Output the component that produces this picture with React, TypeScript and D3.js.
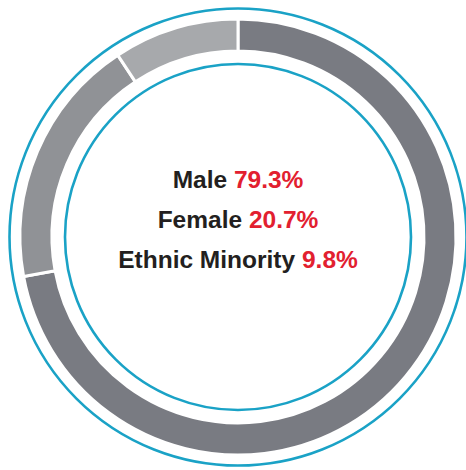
import React, { useEffect, useRef } from 'react';
import * as d3 from 'd3';

// ring segments, clockwise from 12 o'clock (shares)
const segments = ['Male', 'Female', 'Ethnic Minority'];
const segmentShares = [72.1, 18.6, 9.3];
const segmentColors = ['#797b82', '#909296', '#a7a9ac'];

// centre label rows
const labelNames = ['Male', 'Female', 'Ethnic Minority'];
const labelValues = ['79.3%', '20.7%', '9.8%'];

const width = 466;
const height = 470;

const App: React.FC = () => {
  const svgRef = useRef<SVGSVGElement>(null);

  useEffect(() => {
    if (!svgRef.current) return;
    const svg = d3.select(svgRef.current);
    svg.selectAll('*').remove();

    const cx = 238;
    const cy = 237;

    const g = svg.append('g').attr('transform', `translate(${cx},${cy})`);

    // outer and inner cyan rings
    g.append('circle')
      .attr('r', 228.5)
      .attr('fill', 'none')
      .attr('stroke', '#1aa2c6')
      .attr('stroke-width', 2.6);

    g.append('circle')
      .attr('r', 173)
      .attr('fill', 'none')
      .attr('stroke', '#1aa2c6')
      .attr('stroke-width', 2.6);

    const data = segments.map((name, i) => ({ name, value: segmentShares[i], color: segmentColors[i] }));

    const pie = d3.pie<any>()
      .sort(null)
      .value(d => d.value);

    const arc = d3.arc<any>()
      .innerRadius(186)
      .outerRadius(218);

    g.selectAll('.seg')
      .data(pie(data))
      .enter()
      .append('path')
      .attr('class', 'seg')
      .attr('d', arc)
      .attr('fill', d => d.data.color)
      .attr('stroke', '#ffffff')
      .attr('stroke-width', 3);

    // centre text
    const lines = g.append('g')
      .attr('font-family', '"Liberation Sans", Arial, Helvetica, sans-serif')
      .attr('font-weight', 'bold')
      .attr('font-size', 24.5)
      .attr('text-anchor', 'middle');

    labelNames.forEach((name, i) => {
      const t = lines.append('text')
        .attr('x', 0)
        .attr('y', -49 + i * 40);
      t.append('tspan').attr('fill', '#231f20').text(name + ' ');
      t.append('tspan').attr('fill', '#e2202f').text(labelValues[i]);
    });
  }, []);

  return (
    <svg
      ref={svgRef}
      width={width}
      height={height}
      style={{ position: 'absolute', left: 0, top: 0, background: '#ffffff' }}
    />
  );
};

export default App;
